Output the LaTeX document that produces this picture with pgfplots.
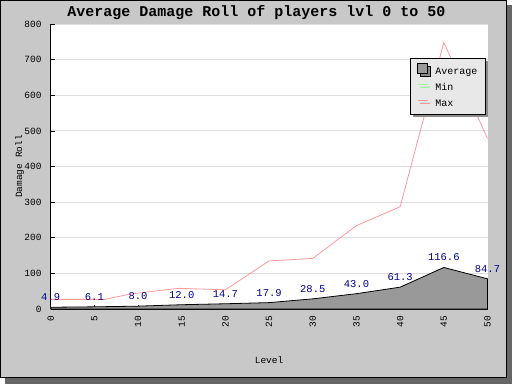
\documentclass[border=0pt]{standalone}
\usepackage{pgfplots}
\pgfplotsset{compat=1.18}
\usepackage{fontspec}
\setmainfont{Liberation Mono}
\setmonofont{Liberation Mono}
\usetikzlibrary{shadows,backgrounds,calc}
\definecolor{bgc}{HTML}{C8C8C8}
\definecolor{shadowc}{HTML}{666666}
\definecolor{areac}{HTML}{999999}
\definecolor{maxc}{HTML}{FF9999}
\definecolor{minc}{HTML}{99FF99}
\definecolor{labc}{HTML}{000090}
\definecolor{legc}{HTML}{E8E8E8}
\definecolor{gridc}{HTML}{DDDDDD}
\makeatletter
\def\resetpreactions{\let\tikz@preactions\pgfutil@empty}
\makeatother
\pgfplotsset{
  lineleg/.style={legend image code/.code={\resetpreactions\draw[##1, line width=1.5pt] (0pt,3.5pt) -- (10pt,3.5pt);}},
  boxleg/.style={legend image code/.code={\resetpreactions\draw[##1, line width=0.6pt] (0pt,-1.5pt) rectangle (10pt,8.5pt);}},
}
\begin{document}
\begin{tikzpicture}
\begin{axis}[
  scale only axis, width=436.8pt, height=285pt,
  xmin=0, xmax=50, ymin=0, ymax=800,
  xtick={0,5,...,50}, ytick={0,100,...,800},
  axis x line*=bottom, axis y line*=left,
  axis line style={black, line width=0.8pt},
  tick align=inside, major tick length=4pt,
  tick style={black, line width=0.6pt},
  ymajorgrids, major grid style={gridc, line width=0.8pt},
  axis background/.style={fill=white},
  clip=false,
  /pgf/number format/assume math mode=true,
  ticklabel style={font=\fontsize{9.5}{10}\selectfont},
  yticklabel style={inner sep=0pt, anchor=east, xshift=-9pt},
  xticklabel style={inner sep=0pt, yshift=-7pt, rotate=90, anchor=east},
  title={\bfseries Average Damage Roll of players lvl 0 to 50},
  title style={at={(axis description cs:0.471,1.0175)}, anchor=center, inner sep=0pt, font=\fontsize{15}{16}\selectfont},
  xlabel={Level},
  xlabel style={at={(axis description cs:0.5,-0.179)}, anchor=center, font=\fontsize{9.5}{11}\selectfont},
  ylabel={Damage Roll},
  ylabel style={at={(axis description cs:-0.071,0.5)}, anchor=center, rotate=0, font=\fontsize{9.5}{11}\selectfont},
  legend style={at={(axis description cs:0.996,0.880)}, anchor=north east,
    fill=legc, draw=black, line width=0.8pt,
    font=\fontsize{10}{12}\selectfont,
    drop shadow={shadow xshift=2.5pt, shadow yshift=-2.5pt, fill=black!45, opacity=1},
    inner xsep=6pt, inner ysep=4.5pt, row sep=3.6pt,
    nodes={inner sep=2pt, /utils/exec=\resetpreactions},
    /tikz/every odd column/.append style={column sep=5pt}},
  legend cell align=left,
]
\coordinate (SW) at (rel axis cs:0,0);
% Min (hidden beneath the average area)
\addplot[minc, line width=0.8pt, forget plot] coordinates {
(0,2) (5,3) (10,4) (15,5) (20,6) (25,8) (30,12) (35,18) (40,25) (45,40) (50,30)};
% Average
\addplot[fill=areac, draw=black, line width=0.8pt, boxleg]
coordinates {
(0,4.9) (5,6.1) (10,8.0) (15,12.0) (20,14.7) (25,17.9) (30,28.5) (35,43.0) (40,61.3) (45,116.6) (50,84.7)} \closedcycle;
\addlegendentry{Average}
\addlegendimage{minc, lineleg}
\addlegendentry{Min}
% Max
\addplot[maxc, line width=0.8pt, lineleg]
coordinates {
(0,27) (6.2,27) (9.1,42) (14.6,58) (20,54) (25,135) (30,142) (35,234) (40,287) (45,748) (50,479)};
\addlegendentry{Max}
% value labels
\addplot[draw=none, forget plot, nodes near coords,
  nodes near coords style={labc, anchor=center, yshift=10pt, inner sep=0pt, font=\fontsize{10.5}{12}\selectfont,
    /pgf/number format/.cd, fixed, fixed zerofill, precision=1, assume math mode=true}]
coordinates {
(0,4.9) (5,6.1) (10,8.0) (15,12.0) (20,14.7) (25,17.9) (30,28.5) (35,43.0) (40,61.3) (45,116.6) (50,84.7)};
\end{axis}
\begin{scope}[on background layer]
\fill[shadowc] ($(SW)+(-50.7pt,-75pt)+(5pt,0pt)$) rectangle ($(SW)+(-50.7pt,-75pt)+(512pt,379pt)$);
\filldraw[fill=bgc, draw=black, line width=1pt] ($(SW)+(-50.7pt,-75pt)+(0.5pt,6.5pt)$) rectangle ($(SW)+(-50.7pt,-75pt)+(506pt,383.5pt)$);
\end{scope}
\pgfresetboundingbox
\path ($(SW)+(-50.7pt,-75pt)$) rectangle ($(SW)+(-50.7pt,-75pt)+(512pt,384pt)$);
\end{tikzpicture}
\end{document}
